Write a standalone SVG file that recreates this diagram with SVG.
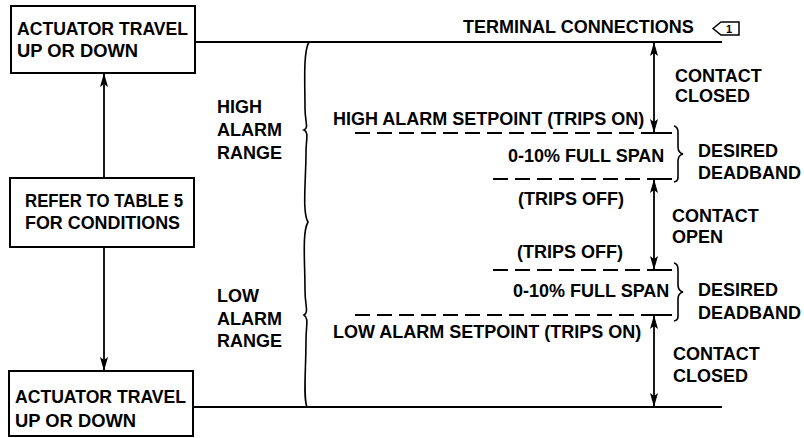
<svg xmlns="http://www.w3.org/2000/svg" width="804" height="438" viewBox="0 0 804 438">
<style>
text{font-family:"Liberation Sans",Arial,sans-serif;font-weight:bold;font-size:18px;fill:#000}
.box{fill:#fff;stroke:#000;stroke-width:2}
.ln{fill:none;stroke:#000;stroke-width:2}
.dash{fill:none;stroke:#000;stroke-width:2;stroke-dasharray:15 7}
.arr{fill:none;stroke:#000;stroke-width:1.8;marker-start:url(#ah);marker-end:url(#ah)}
.arr1{fill:none;stroke:#000;stroke-width:1.8}
.brace{fill:none;stroke:#000;stroke-width:1.6}
</style>
<defs>
<marker id="ah" viewBox="0 0 14 8" refX="13" refY="4" markerWidth="15" markerHeight="8" markerUnits="userSpaceOnUse" orient="auto-start-reverse">
<path d="M0,0 L14,4 L0,8 L3,4 z" fill="#000"/>
</marker>
</defs>
<rect width="804" height="438" fill="#fff"/>

<g id="connectors">
<line class="ln" x1="195" y1="42" x2="722" y2="42"/>
<line class="ln" x1="193" y1="407" x2="722" y2="407"/>
<line class="arr1" x1="104" y1="178" x2="104" y2="74" marker-end="url(#ah)"/>
<line class="arr1" x1="104" y1="247" x2="104" y2="370" marker-end="url(#ah)"/>
<line class="arr" x1="654" y1="43" x2="654" y2="132"/>
<line class="arr" x1="654" y1="180" x2="654" y2="269"/>
<line class="arr" x1="654" y1="316" x2="654" y2="406"/>
<line class="dash" x1="355" y1="133" x2="654" y2="133"/>
<line class="ln" x1="654" y1="133" x2="672" y2="133"/>
<line class="dash" x1="493" y1="179" x2="654" y2="179"/>
<line class="ln" x1="654" y1="179" x2="672" y2="179"/>
<line class="dash" x1="493" y1="270" x2="654" y2="270"/>
<line class="ln" x1="654" y1="270" x2="672" y2="270"/>
<line class="dash" x1="355" y1="315" x2="654" y2="315"/>
<line class="ln" x1="654" y1="315" x2="672" y2="315"/>
</g>

<g id="range-brace">
<path class="brace" d="M309,42 C303,52 305,85 305,108 C305,122 309,128 304,130 C309,132 306,140 306,152 C306,180 302,212 308,222 C302,232 305,262 305,290 C305,306 309,312 304,315 C309,318 306,326 306,340 C306,370 303,398 307,407"/>
</g>

<g id="deadband-brace-1">
<path class="brace" d="M674,126 C679,127 678,133 678,139 L678,147 C678,151 679,153 683,154 C679,155 678,157 678,161 L678,172 C678,178 679,181 674,182"/>
</g>
<g id="deadband-brace-2">
<path class="brace" d="M674,263 C679,264 678,270 678,276 L678,285 C678,289 679,291 683,292 C679,293 678,295 678,299 L678,311 C678,317 679,320 674,321"/>
</g>

<g id="box-top">
<rect class="box" x="11" y="6" width="184" height="67"/>
<text x="17" y="35" textLength="171" lengthAdjust="spacingAndGlyphs">ACTUATOR TRAVEL</text>
<text x="17" y="57" textLength="121" lengthAdjust="spacingAndGlyphs">UP OR DOWN</text>
</g>
<g id="box-mid">
<rect class="box" x="10" y="178" width="184" height="69"/>
<text x="25" y="207" textLength="158" lengthAdjust="spacingAndGlyphs">REFER TO TABLE 5</text>
<text x="25" y="229" textLength="155" lengthAdjust="spacingAndGlyphs">FOR CONDITIONS</text>
</g>
<g id="box-bottom">
<rect class="box" x="9" y="371" width="184" height="65"/>
<text x="15" y="403" textLength="171" lengthAdjust="spacingAndGlyphs">ACTUATOR TRAVEL</text>
<text x="15" y="427" textLength="121" lengthAdjust="spacingAndGlyphs">UP OR DOWN</text>
</g>

<g id="high-range">
<text x="217" y="113">HIGH</text>
<text x="217" y="136">ALARM</text>
<text x="217" y="159">RANGE</text>
</g>
<g id="low-range">
<text x="217" y="302">LOW</text>
<text x="217" y="325">ALARM</text>
<text x="217" y="347">RANGE</text>
</g>

<g id="terminal">
<text x="463" y="33">TERMINAL CONNECTIONS</text>
<polygon points="713,28.5 721,22 739,22 739,35 721,35" fill="none" stroke="#000" stroke-width="1.5"/>
<text x="729" y="33" text-anchor="middle" style="font-size:11px">1</text>
</g>

<g id="labels-right">
<text x="675" y="82">CONTACT</text>
<text x="675" y="102">CLOSED</text>
<text x="333" y="125">HIGH ALARM SETPOINT (TRIPS ON)</text>
<text x="508" y="162">0-10% FULL SPAN</text>
<text x="698" y="157">DESIRED</text>
<text x="698" y="179">DEADBAND</text>
<text x="518" y="205">(TRIPS OFF)</text>
<text x="672" y="222">CONTACT</text>
<text x="672" y="243">OPEN</text>
<text x="517" y="258">(TRIPS OFF)</text>
<text x="513" y="297">0-10% FULL SPAN</text>
<text x="698" y="296">DESIRED</text>
<text x="698" y="319">DEADBAND</text>
<text x="333" y="338">LOW ALARM SETPOINT (TRIPS ON)</text>
<text x="673" y="360">CONTACT</text>
<text x="673" y="382">CLOSED</text>
</g>
</svg>
